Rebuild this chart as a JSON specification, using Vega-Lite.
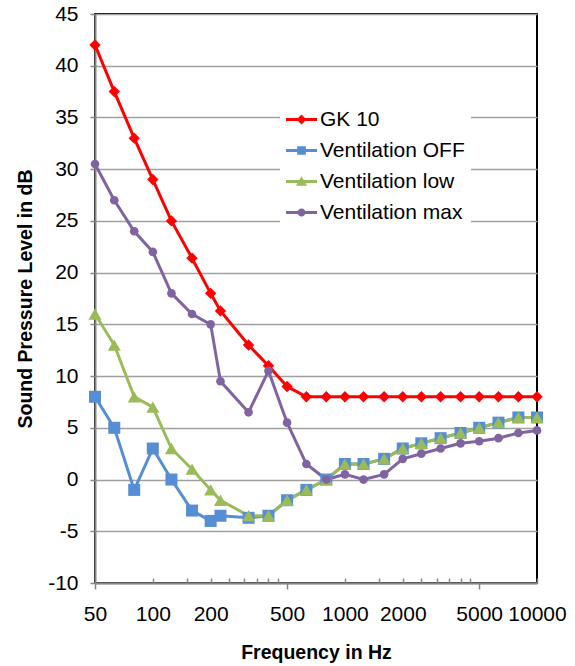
{
  "$schema": "https://vega.github.io/schema/vega-lite/v6.json",
  "width": 442,
  "height": 569,
  "autosize": {"type": "none"},
  "padding": {"left": 95, "top": 14, "right": 38, "bottom": 83},
  "background": "white",
  "config": {
    "view": {"stroke": "black", "strokeWidth": 2},
    "font": "Liberation Sans"
  },
  "data": {
    "values": [
      {"f": 50, "s": "GK 10", "v": 42}, {"f": 63, "s": "GK 10", "v": 37.5}, {"f": 80, "s": "GK 10", "v": 33}, {"f": 100, "s": "GK 10", "v": 29}, {"f": 125, "s": "GK 10", "v": 25}, {"f": 160, "s": "GK 10", "v": 21.4}, {"f": 200, "s": "GK 10", "v": 18}, {"f": 225, "s": "GK 10", "v": 16.3}, {"f": 315, "s": "GK 10", "v": 13}, {"f": 400, "s": "GK 10", "v": 11}, {"f": 500, "s": "GK 10", "v": 9}, {"f": 630, "s": "GK 10", "v": 8}, {"f": 800, "s": "GK 10", "v": 8}, {"f": 1000, "s": "GK 10", "v": 8}, {"f": 1250, "s": "GK 10", "v": 8}, {"f": 1600, "s": "GK 10", "v": 8}, {"f": 2000, "s": "GK 10", "v": 8}, {"f": 2500, "s": "GK 10", "v": 8}, {"f": 3150, "s": "GK 10", "v": 8}, {"f": 4000, "s": "GK 10", "v": 8}, {"f": 5000, "s": "GK 10", "v": 8}, {"f": 6300, "s": "GK 10", "v": 8}, {"f": 8000, "s": "GK 10", "v": 8}, {"f": 10000, "s": "GK 10", "v": 8},
      {"f": 50, "s": "Ventilation OFF", "v": 8}, {"f": 63, "s": "Ventilation OFF", "v": 5}, {"f": 80, "s": "Ventilation OFF", "v": -1}, {"f": 100, "s": "Ventilation OFF", "v": 3}, {"f": 125, "s": "Ventilation OFF", "v": 0}, {"f": 160, "s": "Ventilation OFF", "v": -3}, {"f": 200, "s": "Ventilation OFF", "v": -4}, {"f": 225, "s": "Ventilation OFF", "v": -3.5}, {"f": 315, "s": "Ventilation OFF", "v": -3.7}, {"f": 400, "s": "Ventilation OFF", "v": -3.5}, {"f": 500, "s": "Ventilation OFF", "v": -2}, {"f": 630, "s": "Ventilation OFF", "v": -1}, {"f": 800, "s": "Ventilation OFF", "v": 0}, {"f": 1000, "s": "Ventilation OFF", "v": 1.5}, {"f": 1250, "s": "Ventilation OFF", "v": 1.5}, {"f": 1600, "s": "Ventilation OFF", "v": 2}, {"f": 2000, "s": "Ventilation OFF", "v": 3}, {"f": 2500, "s": "Ventilation OFF", "v": 3.5}, {"f": 3150, "s": "Ventilation OFF", "v": 4}, {"f": 4000, "s": "Ventilation OFF", "v": 4.5}, {"f": 5000, "s": "Ventilation OFF", "v": 5}, {"f": 6300, "s": "Ventilation OFF", "v": 5.5}, {"f": 8000, "s": "Ventilation OFF", "v": 6}, {"f": 10000, "s": "Ventilation OFF", "v": 6},
      {"f": 50, "s": "Ventilation low", "v": 16}, {"f": 63, "s": "Ventilation low", "v": 13}, {"f": 80, "s": "Ventilation low", "v": 8}, {"f": 100, "s": "Ventilation low", "v": 7}, {"f": 125, "s": "Ventilation low", "v": 3}, {"f": 160, "s": "Ventilation low", "v": 1}, {"f": 200, "s": "Ventilation low", "v": -1}, {"f": 225, "s": "Ventilation low", "v": -2}, {"f": 315, "s": "Ventilation low", "v": -3.5}, {"f": 400, "s": "Ventilation low", "v": -3.5}, {"f": 500, "s": "Ventilation low", "v": -2}, {"f": 630, "s": "Ventilation low", "v": -1}, {"f": 800, "s": "Ventilation low", "v": 0}, {"f": 1000, "s": "Ventilation low", "v": 1.5}, {"f": 1250, "s": "Ventilation low", "v": 1.5}, {"f": 1600, "s": "Ventilation low", "v": 2}, {"f": 2000, "s": "Ventilation low", "v": 3}, {"f": 2500, "s": "Ventilation low", "v": 3.5}, {"f": 3150, "s": "Ventilation low", "v": 4}, {"f": 4000, "s": "Ventilation low", "v": 4.5}, {"f": 5000, "s": "Ventilation low", "v": 5}, {"f": 6300, "s": "Ventilation low", "v": 5.5}, {"f": 8000, "s": "Ventilation low", "v": 6}, {"f": 10000, "s": "Ventilation low", "v": 6},
      {"f": 50, "s": "Ventilation max", "v": 30.5}, {"f": 63, "s": "Ventilation max", "v": 27}, {"f": 80, "s": "Ventilation max", "v": 24}, {"f": 100, "s": "Ventilation max", "v": 22}, {"f": 125, "s": "Ventilation max", "v": 18}, {"f": 160, "s": "Ventilation max", "v": 16}, {"f": 200, "s": "Ventilation max", "v": 15}, {"f": 225, "s": "Ventilation max", "v": 9.5}, {"f": 315, "s": "Ventilation max", "v": 6.5}, {"f": 400, "s": "Ventilation max", "v": 10.5}, {"f": 500, "s": "Ventilation max", "v": 5.5}, {"f": 630, "s": "Ventilation max", "v": 1.5}, {"f": 800, "s": "Ventilation max", "v": 0}, {"f": 1000, "s": "Ventilation max", "v": 0.5}, {"f": 1250, "s": "Ventilation max", "v": 0}, {"f": 1600, "s": "Ventilation max", "v": 0.5}, {"f": 2000, "s": "Ventilation max", "v": 2}, {"f": 2500, "s": "Ventilation max", "v": 2.5}, {"f": 3150, "s": "Ventilation max", "v": 3}, {"f": 4000, "s": "Ventilation max", "v": 3.5}, {"f": 5000, "s": "Ventilation max", "v": 3.7}, {"f": 6300, "s": "Ventilation max", "v": 4}, {"f": 8000, "s": "Ventilation max", "v": 4.5}, {"f": 10000, "s": "Ventilation max", "v": 4.75}
    ]
  },
  "encoding": {
    "x": {
      "field": "f", "type": "quantitative",
      "scale": {"type": "log", "domain": [50, 10000], "nice": false},
      "axis": {
        "title": "Frequency in Hz",
        "titleFont": "Liberation Sans", "titleFontSize": 19.5, "titleFontWeight": "bold", "titleColor": "black",
        "titleBaseline": "alphabetic", "titleY": 75,
        "values": [50, 100, 150, 200, 250, 300, 350, 400, 450, 500, 1000, 1500, 2000, 2500, 3000, 3500, 4000, 4500, 5000, 10000],
        "labelExpr": "indexof([50,100,200,500,1000,2000,5000,10000], datum.value) >= 0 ? toString(datum.value) : ''",
        "labelFont": "Liberation Sans", "labelFontSize": 21, "labelColor": "black",
        "labelOverlap": false, "labelFlush": false,
        "labelPadding": {"condition": {"test": "datum.value == 50 || datum.value == 500 || datum.value == 5000", "value": 14}, "value": 25},
        "grid": false,
        "domainColor": "#868686", "domainWidth": 2,
        "tickColor": "#868686", "tickWidth": 1.5,
        "tickSize": {"condition": {"test": "datum.value == 50 || datum.value == 500 || datum.value == 5000", "value": 6}, "value": -5}
      }
    },
    "y": {
      "field": "v", "type": "quantitative",
      "scale": {"domain": [-10, 45], "nice": false, "zero": false},
      "axis": {
        "title": "Sound Pressure Level  in dB",
        "titleFont": "Liberation Sans", "titleFontSize": 19.5, "titleFontWeight": "bold", "titleColor": "black",
        "titleX": -70, "titleY": 284.5, "titleBaseline": "middle", "titleAlign": "center", "titleAngle": 270,
        "values": [-10, -5, 0, 5, 10, 15, 20, 25, 30, 35, 40, 45],
        "labelExpr": "toString(datum.value)",
        "labelFont": "Liberation Sans", "labelFontSize": 21, "labelColor": "black", "labelPadding": 12,
        "grid": true, "gridColor": "#A0A0A0", "gridWidth": 1.5,
        "domainColor": "#868686", "domainWidth": 2,
        "tickColor": "#868686", "tickWidth": 1.5, "tickSize": 5
      }
    }
  },
  "layer": [
    {
      "mark": {"type": "line", "strokeWidth": 3},
      "encoding": {
        "color": {
          "field": "s", "type": "nominal",
          "scale": {"domain": ["GK 10", "Ventilation OFF", "Ventilation low", "Ventilation max"], "range": ["#FF0000", "#558ED5", "#9BBB59", "#8064A2"]},
          "legend": {
            "title": null, "orient": "none", "legendX": 185, "legendY": 84,
            "fillColor": "white", "padding": 6,
            "labelFont": "Liberation Sans", "labelFontSize": 21, "labelColor": "black", "labelOffset": 3,
            "symbolSize": 961, "rowPadding": 5,
            "symbolType": "M-1,-0.09L1,-0.09L1,0.09L-1,0.09Z",
            "encode": {
              "symbols": {
                "update": {
                  "shape": {"signal": "datum.value === 'GK 10' ? 'M-1,-0.09L1,-0.09L1,0.09L-1,0.09ZM0,-0.32L0.32,0L0,0.32L-0.32,0Z' : datum.value === 'Ventilation OFF' ? 'M-1,-0.09L1,-0.09L1,0.09L-1,0.09ZM-0.28,-0.28L0.28,-0.28L0.28,0.28L-0.28,0.28Z' : datum.value === 'Ventilation low' ? 'M-1,-0.09L1,-0.09L1,0.09L-1,0.09ZM0,-0.34L0.36,0.28L-0.36,0.28Z' : 'M-1,-0.09L1,-0.09L1,0.09L-1,0.09ZM-0.26,0A0.26,0.26,0,1,1,0.26,0A0.26,0.26,0,1,1,-0.26,0Z'"},
                  "fill": {"signal": "scale('color', datum.value)"},
                  "fillOpacity": {"value": 1},
                  "opacity": {"value": 1},
                  "strokeWidth": {"value": 0}
                }
              }
            }
          }
        }
      }
    },
    {
      "transform": [{"filter": "datum.s === 'GK 10'"}],
      "mark": {"type": "point", "filled": true, "opacity": 1, "shape": "diamond", "size": 130, "color": "#FF0000"}
    },
    {
      "transform": [{"filter": "datum.s === 'Ventilation OFF'"}],
      "mark": {"type": "point", "filled": true, "opacity": 1, "shape": "square", "size": 144, "color": "#558ED5"}
    },
    {
      "transform": [{"filter": "datum.s === 'Ventilation low'"}],
      "mark": {"type": "point", "filled": true, "opacity": 1, "shape": "triangle-up", "size": 170, "color": "#9BBB59"}
    },
    {
      "transform": [{"filter": "datum.s === 'Ventilation max'"}],
      "mark": {"type": "point", "filled": true, "opacity": 1, "shape": "circle", "size": 75, "color": "#8064A2"}
    }
  ]
}
